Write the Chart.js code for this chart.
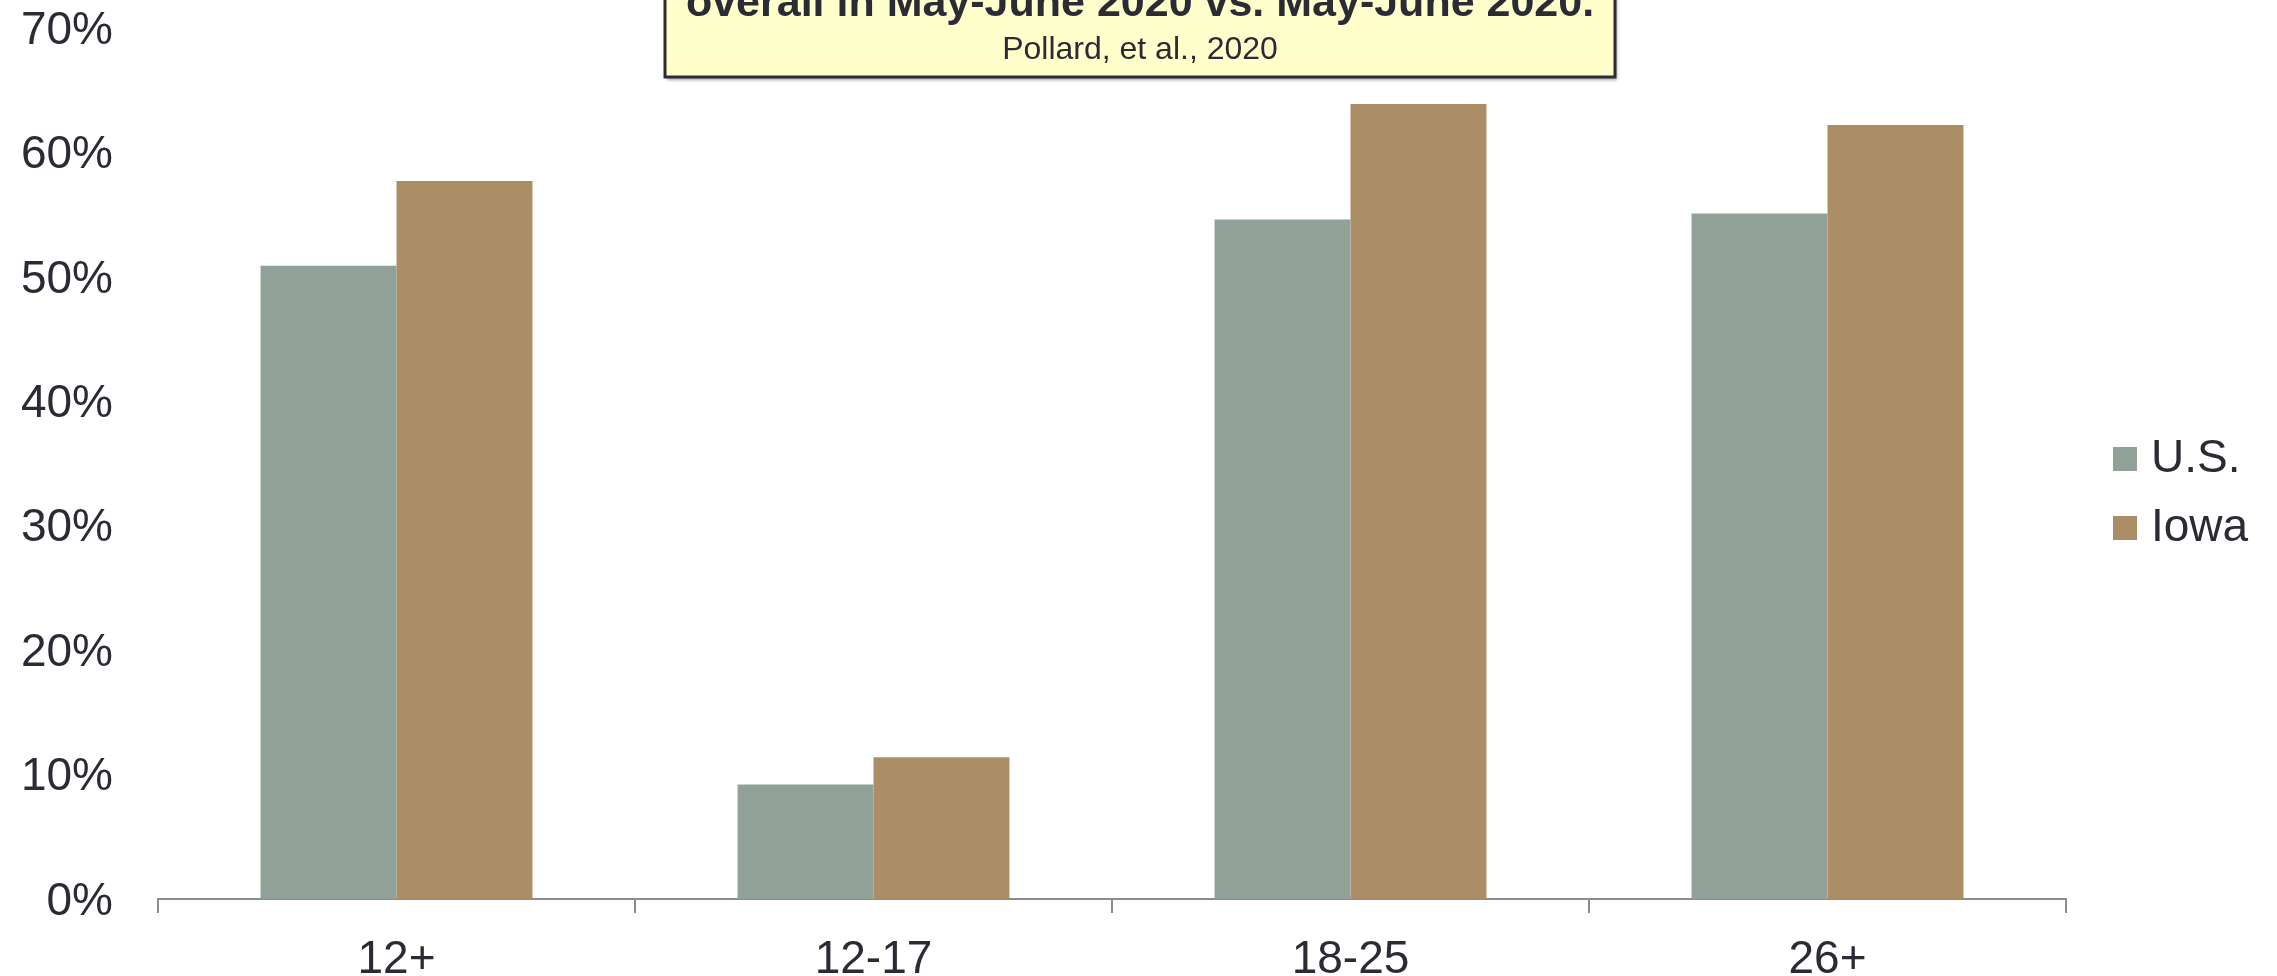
<!DOCTYPE html>
<html>
<head>
<meta charset="utf-8">
<script src="https://cdn.jsdelivr.net/npm/chart.js@4"></script>
<style>
  html, body { margin: 0; padding: 0; background: #fff; }
  #wrap { width: 2277px; height: 976px; position: relative; }
</style>
</head>
<body>
<div id="wrap"><canvas id="chart"></canvas></div>
<script>
'use strict';
// данные графика
const ageGroups = ['12+', '12-17', '18-25', '26+'];
const usValues = [50.9, 9.2, 54.6, 55.1];
const iowaValues = [57.7, 11.4, 63.9, 62.2];
const titleLine = 'overall in May-June 2020 vs. May-June 2020.';
const sourceLine = 'Pollard, et al., 2020';

const textColor = '#2b2b36';
const font = '"Liberation Sans", Arial, sans-serif';

// жёлтая рамка с заголовком сверху
const titleBox = {
  id: 'titleBox',
  afterDraw(chart) {
    const ctx = chart.ctx;
    ctx.save();
    ctx.shadowColor = 'rgba(0,0,0,0.35)';
    ctx.shadowOffsetX = 2;
    ctx.shadowOffsetY = 3;
    ctx.shadowBlur = 3;
    ctx.fillStyle = '#ffffcc';
    ctx.fillRect(665, -20, 950, 97);
    ctx.shadowColor = 'transparent';
    ctx.strokeStyle = '#2b2b33';
    ctx.lineWidth = 3;
    ctx.strokeRect(665, -20, 950, 97);
    ctx.fillStyle = textColor;
    ctx.textAlign = 'center';
    ctx.textBaseline = 'alphabetic';
    ctx.font = 'bold 43px ' + font;
    ctx.fillText(titleLine, 1140, 16);
    ctx.font = '32px ' + font;
    ctx.fillText(sourceLine, 1140, 59);
    ctx.restore();
  }
};

// легенда справа
const sideLegend = {
  id: 'sideLegend',
  afterDraw(chart) {
    const ctx = chart.ctx;
    ctx.save();
    ctx.font = '46px ' + font;
    ctx.textBaseline = 'middle';
    ctx.textAlign = 'left';
    chart.data.datasets.forEach(function(ds, i) {
      const y = 459 + i * 69;
      ctx.fillStyle = ds.backgroundColor;
      ctx.fillRect(2113, y - 12, 24, 24);
      ctx.fillStyle = textColor;
      ctx.fillText(ds.label, 2151, y);
    });
    ctx.restore();
  }
};

const ctx = document.getElementById('chart').getContext('2d');
const chart = new Chart(ctx, {
  type: 'bar',
  data: {
    labels: ageGroups,
    datasets: [
      { label: 'U.S.', data: usValues, backgroundColor: '#92a197', borderWidth: 0 },
      { label: 'Iowa', data: iowaValues, backgroundColor: '#ab8d66', borderWidth: 0 }
    ]
  },
  options: {
    responsive: true,
    maintainAspectRatio: false,
    animation: false,
    categoryPercentage: 0.57,
    barPercentage: 1,
    layout: { padding: { left: 0, right: 211, top: 28, bottom: 0 } },
    plugins: {
      legend: { display: false },
      tooltip: { enabled: false }
    },
    scales: {
      x: {
        grid: {
          display: true,
          drawOnChartArea: false,
          drawTicks: true,
          tickLength: 14,
          color: '#8c8c8c',
          lineWidth: 2,
          offset: true
        },
        border: { display: true, color: '#8c8c8c', width: 2 },
        ticks: { color: textColor, font: { family: font, size: 46 }, padding: 20 },
        afterFit(scale) {
          scale.height = 77;
          scale.paddingLeft = 0;
          scale.paddingRight = 0;
        }
      },
      y: {
        min: 0,
        max: 70,
        grid: { display: false, drawTicks: false },
        border: { display: false },
        ticks: {
          stepSize: 10,
          color: textColor,
          font: { family: font, size: 46 },
          padding: 45,
          labelOffset: 3,
          callback: function(v) { return v + '%'; }
        },
        afterFit(scale) {
          scale.width = 158;
          scale.paddingTop = 0;
          scale.paddingBottom = 0;
        }
      }
    }
  },
  plugins: [titleBox, sideLegend]
});
</script>
</body>
</html>
